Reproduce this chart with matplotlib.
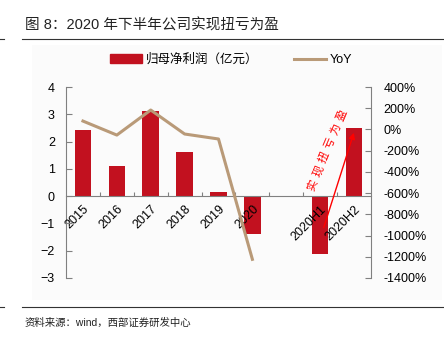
import numpy as np
import matplotlib.pyplot as plt
from matplotlib.patches import Rectangle
from matplotlib.lines import Line2D

plt.rcParams['font.family'] = ['Liberation Sans', 'Noto Sans CJK SC', 'DejaVu Sans']

# data
cats = ['2015', '2016', '2017', '2018', '2019', '2020', '', '2020H1', '2020H2']
profit = [2.42, 1.12, 3.12, 1.62, 0.16, -1.40, np.nan, -2.12, 2.50]
yoy = [79, -53, 183, -43, -90, -1224]
note = '实现扭亏为盈'

bar_c = '#C2111F'
line_c = '#B99A78'
grey = '#808080'

fig = plt.figure(figsize=(4.44, 3.4), dpi=100)
W, H = 444, 340

# faint panel behind chart
fig.patches.append(Rectangle((32 / W, 1 - 300 / H), 410 / W, 255 / H, transform=fig.transFigure,
                             facecolor='#fbfbfb', edgecolor='none', zorder=-5))

ax = fig.add_axes([66 / W, 1 - 278 / H, 305 / W, 191 / H])
ax.patch.set_alpha(0)
ax.set_axisbelow(False)
x = np.arange(len(cats))
ax.bar(x, profit, width=0.49, color=bar_c, zorder=2)
ax.set_xlim(-0.5, len(cats) - 0.5)
ax.set_ylim(-3, 4)
ax.set_yticks(range(-3, 5))

ax.spines['top'].set_visible(False)
ax.spines['right'].set_visible(False)
ax.spines['bottom'].set_position(('data', 0))
ax.spines['bottom'].set_color(grey)
ax.spines['bottom'].set_zorder(3)
ax.spines['left'].set_color(grey)
ax.spines['left'].set_linewidth(0.8)

ax.set_xticks(x[:-1] + 0.5)
ax.set_xticklabels([])
ax.set_xticks(x, minor=True)
ax.set_xticklabels(cats, minor=True, rotation=45, ha='right', va='top',
                   rotation_mode='anchor', fontsize=9)
ax.tick_params(axis='x', which='major', direction='in', length=3, color=grey)
ax.tick_params(axis='x', which='minor', length=0, pad=5)
ax.tick_params(axis='y', direction='in', length=4, color=grey, labelsize=9, pad=8)

ax2 = ax.twinx()
ax2.plot(x[:len(yoy)], yoy, color=line_c, lw=2.2, zorder=4)
ax2.set_ylim(-1400, 400)
ax2.set_yticks(range(-1400, 401, 200))
ax2.set_yticklabels([f'{v}%' for v in range(-1400, 401, 200)])
for s in ['top', 'left', 'bottom']:
    ax2.spines[s].set_visible(False)
ax2.spines['right'].set_color(grey)
ax2.spines['right'].set_linewidth(0.8)
ax2.tick_params(axis='y', direction='in', length=4, color=grey, labelsize=9, pad=9)

# annotation: arrow plus letter-spaced slanted text
ax2.annotate('', xy=(8.02, 2.42), xytext=(7.08, -1.25), xycoords=ax.transData,
             arrowprops=dict(arrowstyle='-|>', color='red', lw=1, mutation_scale=9))
cx = np.linspace(6.78, 7.64, len(note))
cy = np.linspace(0.40, 2.97, len(note))
for ch, xx, yy in zip(note, cx, cy):
    ax2.text(xx, yy, ch, color='red', rotation=67, ha='center', va='center',
             fontsize=8, family=['Noto Sans CJK SC'], transform=ax.transData)

# legend
handles = [Rectangle((0, 0), 1, 1, color=bar_c), Line2D([], [], color=line_c, lw=2.2)]
fig.legend(handles, ['归母净利润（亿元）', 'YoY'], loc='center', ncol=2, frameon=False,
           bbox_to_anchor=(231 / W, 1 - 60 / H), fontsize=9, handlelength=2.6,
           handletextpad=0.3, columnspacing=2.8)

# title and rules
fig.text(25 / W, 1 - 25 / H, '图 8：2020 年下半年公司实现扭亏为盈', fontsize=10.5,
         ha='left', va='center', color='#222222')
for yy in [39, 307]:
    fig.add_artist(Line2D([22 / W, 1], [1 - yy / H] * 2, color='#333333', lw=0.8))
    fig.add_artist(Line2D([0, 4 / W], [1 - yy / H] * 2, color='#333333', lw=0.8))
fig.text(25 / W, 1 - 323 / H, '资料来源：wind，西部证券研发中心', fontsize=7.5,
         ha='left', va='center', color='#222222')

fig.savefig('out.png', dpi=100)
